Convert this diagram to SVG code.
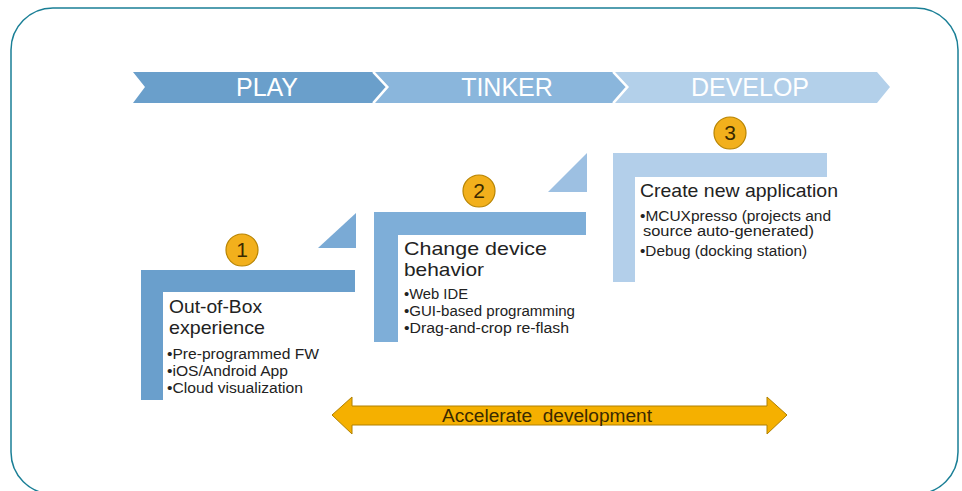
<svg xmlns="http://www.w3.org/2000/svg" width="962" height="491" viewBox="0 0 962 491">
<style>
.stage{font-family:"Liberation Sans",Arial,sans-serif;font-size:25px;fill:#ffffff;text-anchor:middle}
.title{font-family:"Liberation Sans",Arial,sans-serif;font-size:18.5px;fill:#222222}
.bullet{font-family:"Liberation Sans",Arial,sans-serif;font-size:14px;fill:#222222}
.num{font-family:"Liberation Sans",Arial,sans-serif;font-size:21px;fill:#3a2a00;text-anchor:middle}
.badge{fill:#f2b01c;stroke:#b88400;stroke-width:1.2}
</style>
<rect x="11" y="8" width="947" height="486" rx="42" ry="42" fill="#ffffff" stroke="#1a7f96" stroke-width="1.5"/>
<g id="stages">
<polygon points="133,72 373,72 387,87 373,103 133,103 145,87" fill="#6a9fcb"/>
<polygon points="375,72 613,72 627,87 613,103 375,103 389,87" fill="#8ab6dc"/>
<polygon points="615,72 877,72 890,87 877,103 615,103 629,87" fill="#b3d0ea"/>
<polyline points="373,72 387,87 373,103" fill="none" stroke="#ffffff" stroke-width="2"/>
<polyline points="613,72 627,87 613,103" fill="none" stroke="#ffffff" stroke-width="2"/>
<text class="stage" x="267" y="96">PLAY</text>
<text class="stage" x="507" y="96">TINKER</text>
<text class="stage" x="750" y="96">DEVELOP</text>
</g>
<g id="step1">
<polygon points="141,270 355,270 355,292 163,292 163,400 141,400" fill="#6a9fcc"/>
<circle class="badge" cx="242" cy="250" r="16"/>
<text class="num" x="242" y="257">1</text>
<text class="title" x="169" y="313" textLength="93" lengthAdjust="spacingAndGlyphs">Out-of-Box</text>
<text class="title" x="169" y="334" textLength="96" lengthAdjust="spacingAndGlyphs">experience</text>
<text class="bullet" x="167" y="359" textLength="152" lengthAdjust="spacingAndGlyphs">•Pre-programmed FW</text>
<text class="bullet" x="167" y="376" textLength="121" lengthAdjust="spacingAndGlyphs">•iOS/Android App</text>
<text class="bullet" x="167" y="393" textLength="136" lengthAdjust="spacingAndGlyphs">•Cloud visualization</text>
</g>
<g id="step2">
<polygon points="318,248 356,213 356,248" fill="#7aaad5"/>
<polygon points="374,212 586,212 586,235 398,235 398,342 374,342" fill="#7eaed8"/>
<circle class="badge" cx="479" cy="191" r="16"/>
<text class="num" x="479" y="198">2</text>
<text class="title" x="404" y="255" textLength="143" lengthAdjust="spacingAndGlyphs">Change device</text>
<text class="title" x="404" y="276" textLength="80" lengthAdjust="spacingAndGlyphs">behavior</text>
<text class="bullet" x="404" y="299" textLength="64" lengthAdjust="spacingAndGlyphs">•Web IDE</text>
<text class="bullet" x="404" y="316" textLength="171" lengthAdjust="spacingAndGlyphs">•GUI-based programming</text>
<text class="bullet" x="404" y="333" textLength="165" lengthAdjust="spacingAndGlyphs">•Drag-and-crop re-flash</text>
</g>
<g id="step3">
<polygon points="548,192 587,153 587,192" fill="#9dc0e2"/>
<polygon points="613,153 827,153 827,177 635,177 635,282 613,282" fill="#b3cfea"/>
<circle class="badge" cx="730" cy="133" r="16"/>
<text class="num" x="730" y="140">3</text>
<text class="title" x="640" y="197" textLength="198" lengthAdjust="spacingAndGlyphs">Create new application</text>
<text class="bullet" x="640" y="221" textLength="191" lengthAdjust="spacingAndGlyphs">•MCUXpresso (projects and</text>
<text class="bullet" x="643" y="236" textLength="171" lengthAdjust="spacingAndGlyphs">source auto-generated)</text>
<text class="bullet" x="640" y="256" textLength="167" lengthAdjust="spacingAndGlyphs">•Debug (docking station)</text>
</g>
<g id="connectors">
<polygon points="332,415 352,397 352,406 767,406 767,397 787,415 767,434 767,425 352,425 352,434" fill="#f5b000" stroke="#b08000" stroke-width="1"/>
<text x="442" y="422" font-family="Liberation Sans, Arial, sans-serif" font-size="18" fill="#3a2a00" textLength="210" lengthAdjust="spacingAndGlyphs" xml:space="preserve">Accelerate  development</text>
</g>
</svg>
